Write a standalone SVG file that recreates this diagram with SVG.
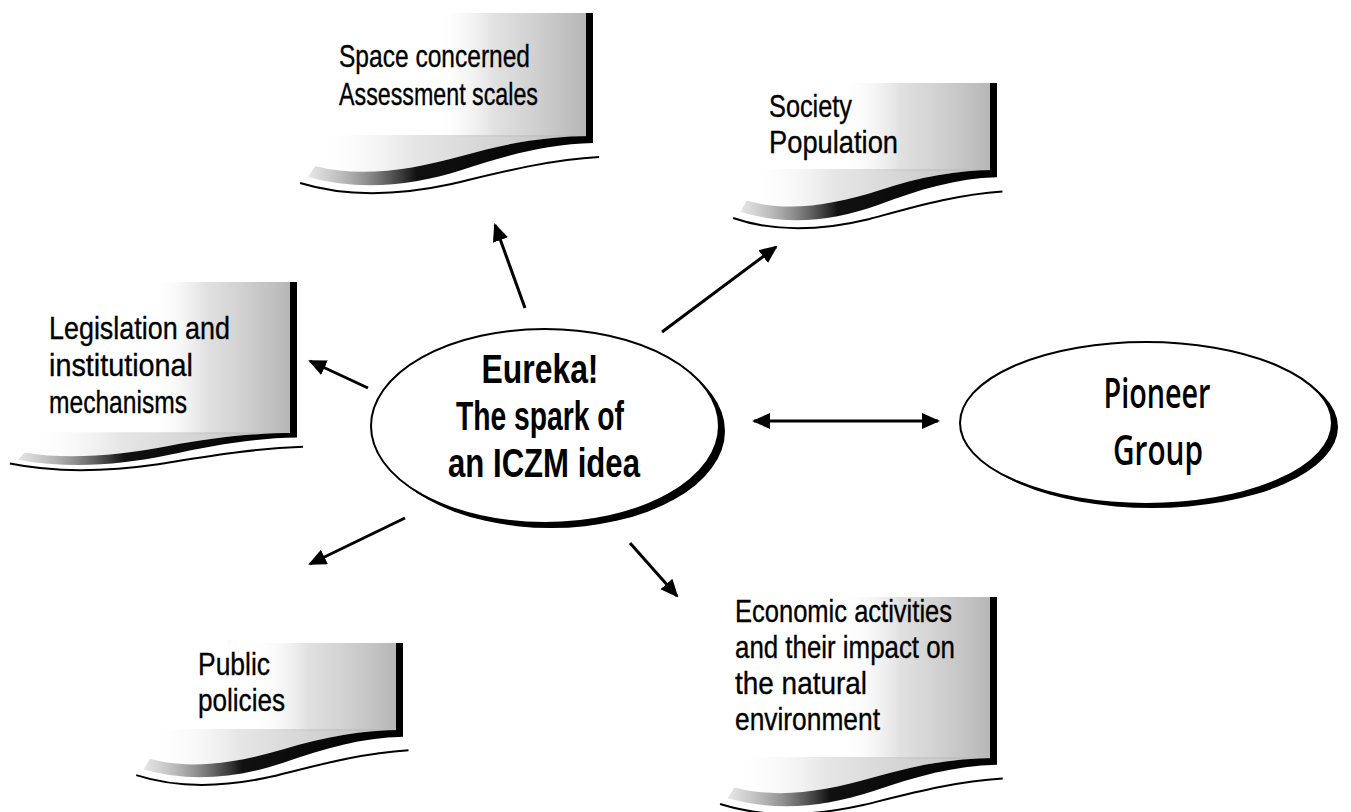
<svg xmlns="http://www.w3.org/2000/svg" xmlns:xlink="http://www.w3.org/1999/xlink" width="1351" height="812" viewBox="0 0 1351 812">
<defs>
<style>
.bt{font-family:"Liberation Sans",Arial,sans-serif;font-size:32px;fill:#000;stroke:#000;stroke-width:0.35}
.et{font-family:"Liberation Sans",Arial,sans-serif;font-size:41px;font-weight:700;fill:#000}
.pt{font-family:"Open Sans","Liberation Sans",sans-serif;font-size:41px;font-weight:600;fill:#000}
.bar{fill:#000}
.flag{fill:url(#gFlag)}
.conn{stroke:#000;stroke-width:3;fill:none}
.ell{fill:#fff;stroke:#000;stroke-width:2}
.shadow{fill:#000}
</style>
<linearGradient id="gFlag" x1="0" y1="0" x2="1" y2="0">
<stop offset="0" stop-color="#fff" stop-opacity="0"/>
<stop offset="0.4" stop-color="#d4d4d4" stop-opacity="0.7"/>
<stop offset="1" stop-color="#b6b6b6" stop-opacity="1"/>
</linearGradient>
<linearGradient id="gWaveFill" x1="0" y1="0" x2="1" y2="0">
<stop offset="0" stop-color="#fff" stop-opacity="0"/>
<stop offset="0.35" stop-color="#d5d5d5" stop-opacity="0.6"/>
<stop offset="1" stop-color="#b8b8b8" stop-opacity="1"/>
</linearGradient>
<linearGradient id="gBand" x1="0" y1="0" x2="1" y2="0">
<stop offset="0" stop-color="#aaa" stop-opacity="0.3"/>
<stop offset="0.2" stop-color="#777" stop-opacity="0.8"/>
<stop offset="0.38" stop-color="#111"/>
<stop offset="1" stop-color="#000"/>
</linearGradient>
<g id="wave">
<path fill="url(#gWaveFill)" d="M0,0 C-45,0 -85,7 -130,20 C-180,34 -230,42 -275,30 L-275,-1 L0,-1 Z"/>
<path fill="url(#gBand)" d="M-275,30 C-230,42 -180,34 -130,20 C-85,7 -45,0 0,0 L0,7 C-45,8 -85,19 -130,34 C-180,50 -232,55 -282,41 Z"/>
<path fill="none" stroke="#000" stroke-width="2" vector-effect="non-scaling-stroke" d="M-290,47 C-245,61 -195,60 -140,48 C-90,36 -45,24 6,21"/>
</g>
<marker id="ah" viewBox="0 0 18 16" refX="16" refY="8" markerWidth="18" markerHeight="16" orient="auto-start-reverse" markerUnits="userSpaceOnUse">
<path d="M0,0 L18,8 L0,16 Z" fill="#000"/>
</marker>
</defs>
<rect width="1351" height="812" fill="#fff"/>

<g id="connectors">
<line class="conn" x1="525" y1="308" x2="495" y2="225" marker-end="url(#ah)"/>
<line class="conn" x1="662" y1="332" x2="776" y2="247" marker-end="url(#ah)"/>
<line class="conn" x1="368" y1="388" x2="310" y2="361" marker-end="url(#ah)"/>
<line class="conn" x1="405" y1="518" x2="310" y2="564" marker-end="url(#ah)"/>
<line class="conn" x1="630" y1="543" x2="677" y2="596" marker-end="url(#ah)"/>
<line class="conn" x1="754" y1="421" x2="938" y2="421" marker-start="url(#ah)" marker-end="url(#ah)"/>
</g>

<g id="banner-space">
<rect class="flag" x="433" y="13" width="153" height="124"/>
<use xlink:href="#wave" transform="translate(593,136) scale(1.01,1)"/>
<rect class="bar" x="586" y="13" width="7" height="126"/>
<text class="bt" x="339" y="67" textLength="191" lengthAdjust="spacingAndGlyphs">Space concerned</text>
<text class="bt" x="339" y="105" textLength="199" lengthAdjust="spacingAndGlyphs">Assessment scales</text>
</g>

<g id="banner-society">
<rect class="flag" x="840" y="83" width="150" height="88"/>
<use xlink:href="#wave" transform="translate(997,170) scale(0.91,1.02)"/>
<rect class="bar" x="990" y="83" width="7" height="90"/>
<text class="bt" x="769" y="117" textLength="83" lengthAdjust="spacingAndGlyphs">Society</text>
<text class="bt" x="769" y="153" textLength="129" lengthAdjust="spacingAndGlyphs">Population</text>
</g>

<g id="banner-legislation">
<rect class="flag" x="150" y="282" width="140" height="152"/>
<use xlink:href="#wave" transform="translate(297,433) scale(0.99,0.65)"/>
<rect class="bar" x="290" y="282" width="7" height="154"/>
<text class="bt" x="49" y="339" textLength="181" lengthAdjust="spacingAndGlyphs">Legislation and</text>
<text class="bt" x="49" y="376" textLength="144" lengthAdjust="spacingAndGlyphs">institutional</text>
<text class="bt" x="49" y="413" textLength="138" lengthAdjust="spacingAndGlyphs">mechanisms</text>
</g>

<g id="banner-public">
<rect class="flag" x="250" y="643" width="146" height="88"/>
<use xlink:href="#wave" transform="translate(403,730) scale(0.92,0.96)"/>
<rect class="bar" x="396" y="643" width="7" height="90"/>
<text class="bt" x="198" y="675" textLength="72" lengthAdjust="spacingAndGlyphs">Public</text>
<text class="bt" x="198" y="711" textLength="87" lengthAdjust="spacingAndGlyphs">policies</text>
</g>

<g id="banner-economic">
<rect class="flag" x="840" y="597" width="150" height="162"/>
<use xlink:href="#wave" transform="translate(997,758) scale(0.955,0.98)"/>
<rect class="bar" x="990" y="597" width="7" height="164"/>
<text class="bt" x="735" y="622" textLength="217" lengthAdjust="spacingAndGlyphs">Economic activities</text>
<text class="bt" x="735" y="658" textLength="220" lengthAdjust="spacingAndGlyphs">and their impact on</text>
<text class="bt" x="735" y="694" textLength="132" lengthAdjust="spacingAndGlyphs">the natural</text>
<text class="bt" x="735" y="730" textLength="145" lengthAdjust="spacingAndGlyphs">environment</text>
</g>

<g id="node-eureka">
<ellipse class="shadow" cx="551" cy="431" rx="174" ry="97"/>
<ellipse class="ell" cx="545" cy="426" rx="174" ry="97"/>
<text class="et" x="540" y="383" text-anchor="middle" textLength="117" lengthAdjust="spacingAndGlyphs">Eureka!</text>
<text class="et" x="540" y="430" text-anchor="middle" textLength="168" lengthAdjust="spacingAndGlyphs">The spark of</text>
<text class="et" x="544" y="477" text-anchor="middle" textLength="192" lengthAdjust="spacingAndGlyphs">an ICZM idea</text>
</g>

<g id="node-pioneer">
<ellipse class="shadow" cx="1152" cy="427" rx="186" ry="81"/>
<ellipse class="ell" cx="1146" cy="423" rx="186" ry="81"/>
<text class="pt" x="1157" y="408" text-anchor="middle" textLength="107" lengthAdjust="spacingAndGlyphs">Pioneer</text>
<text class="pt" x="1158" y="465" text-anchor="middle" textLength="90" lengthAdjust="spacingAndGlyphs">Group</text>
</g>
</svg>
